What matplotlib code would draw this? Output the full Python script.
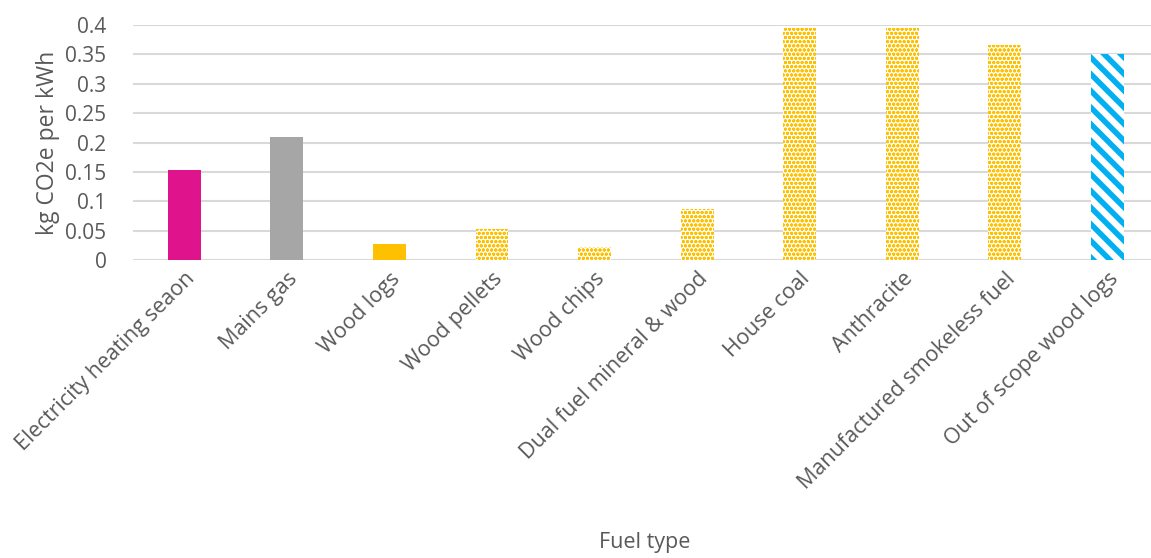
import matplotlib
matplotlib.use("Agg")
import matplotlib.pyplot as plt

categories = ["Electricity heating seaon", "Mains gas", "Wood logs", "Wood pellets",
              "Wood chips", "Dual fuel mineral & wood", "House coal", "Anthracite",
              "Manufactured smokeless fuel", "Out of scope wood logs"]
values = [0.153, 0.209, 0.027, 0.053, 0.022, 0.087, 0.395, 0.395, 0.366, 0.350]
styles = ["solid", "solid", "solid", "dots", "dots", "dots", "dots", "dots", "dots", "stripes"]
colors = ["#DF148C", "#A6A6A6", "#FFC000", "#FFC000", "#FFC000", "#FFC000",
          "#FFC000", "#FFC000", "#FFC000", "#00B0F0"]
yticks = [0, 0.05, 0.1, 0.15, 0.2, 0.25, 0.3, 0.35, 0.4]
ytick_labels = ["0", "0.05", "0.1", "0.15", "0.2", "0.25", "0.3", "0.35", "0.4"]

plt.rcParams['font.family'] = ['Open Sans', 'DejaVu Sans']
plt.rcParams['hatch.linewidth'] = 1.0

fig = plt.figure(figsize=(11.51, 5.58), dpi=100)
ax = fig.add_axes([0.1155, 0.534, 0.885, 0.421])

x = list(range(len(categories)))
for i, (v, s, c) in enumerate(zip(values, styles, colors)):
    if s == "solid":
        ax.bar(i, v, width=0.32, color=c, linewidth=0, zorder=3)
    elif s == "dots":
        ax.bar(i, v, width=0.32, facecolor="white", edgecolor=c, hatch="oooo",
               linewidth=0, zorder=3)
    else:
        b = ax.bar(i, v, width=0.32, facecolor="white", edgecolor=c, hatch="\\\\",
                   linewidth=0, zorder=3)
        for p in b:
            p._hatch_linewidth = 4.0

ax.set_ylim(0, 0.4)
ax.set_xlim(-0.5, 9.43)
ax.set_yticks(yticks)
ax.set_yticklabels(ytick_labels)
ax.set_xticks(x)
ax.set_xticklabels(categories, rotation=45, ha="right", rotation_mode="anchor")
ax.grid(axis="y", color="#D9D9D9", linewidth=1.5, zorder=0)
ax.set_axisbelow(True)
for sp in ax.spines.values():
    sp.set_visible(False)
ax.tick_params(axis="both", length=0, colors="#595959")
ax.tick_params(axis="y", pad=19, labelsize=15)
ax.tick_params(axis="x", pad=6, labelsize=15.5)
ax.set_ylabel("kg CO2e per kWh", fontsize=16.5, color="#595959", labelpad=4)
fig.text(0.56, 0.028, "Fuel type", fontsize=15.5, color="#595959", ha="center", va="center")

fig.savefig("out.png", dpi=100)
